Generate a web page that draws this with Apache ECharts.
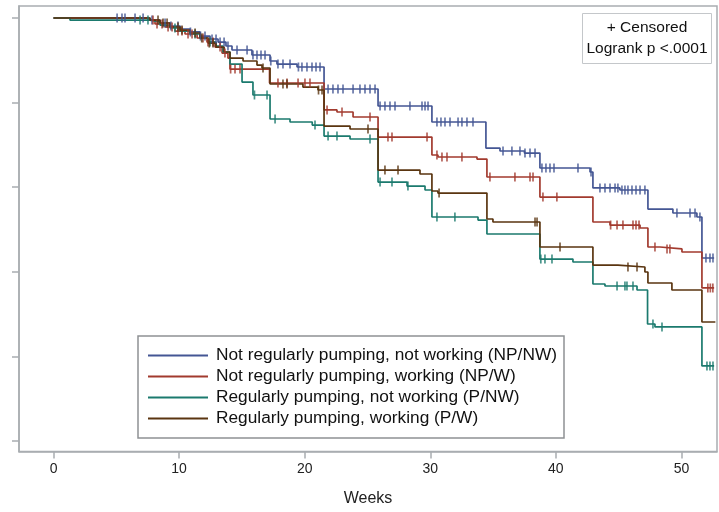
<!DOCTYPE html>
<html>
<head>
<meta charset="utf-8">
<script src="https://cdn.jsdelivr.net/npm/echarts@6/dist/echarts.min.js"></script>
<style>
  html, body { margin: 0; padding: 0; background: #ffffff; }
  #chart { width: 719px; height: 512px; }
</style>
</head>
<body>
<div id="chart"></div>
<script>
// Kaplan-Meier curves: time to stopping (weeks) by pumping / work status
const groupNames = [
  'Not regularly pumping, not working (NP/NW)',
  'Not regularly pumping, working (NP/W)',
  'Regularly pumping, not working (P/NW)',
  'Regularly pumping, working (P/W)'
];
const weekTicks = [0, 10, 20, 30, 40, 50];
const survivalTicks = [0.5, 0.6, 0.7, 0.8, 0.9, 1.0];

// NP/NW: event times (weeks) and survival estimate from each time onward
const npnwTimes = [0, 7.68, 8.48, 9.28, 10.08, 10.87, 11.66, 12.46, 13.1, 13.73, 14.21, 15.8, 17.24, 17.79, 19.39, 21.54, 25.84, 30.13, 34.43, 35.55, 37.5, 38.73, 42.72, 42.95, 45.1, 47.33, 49.32, 51.23, 51.63, 52.6];
const npnwSurv = [1, 0.9976, 0.9941, 0.9905, 0.987, 0.9835, 0.9787, 0.9752, 0.9716, 0.9669, 0.9622, 0.9563, 0.9492, 0.9456, 0.9421, 0.9161, 0.896, 0.8771, 0.8463, 0.8428, 0.8404, 0.8227, 0.818, 0.7991, 0.7967, 0.7742, 0.7695, 0.7648, 0.7163, 0.7163];
const npnwCensored = [5.06, 5.45, 5.69, 6.49, 7.13, 7.84, 8.88, 9.35, 9.91, 10.9, 11.7, 12.06, 12.62, 12.94, 13.26, 13.58, 13.89, 14.61, 15.41, 15.88, 16.2, 16.52, 16.84, 17.3, 17.87, 18.27, 18.83, 19.5, 19.78, 20.18, 20.58, 20.9, 21.22, 21.86, 22.25, 22.65, 23.05, 23.85, 24.4, 24.8, 25.2, 25.6, 26.0, 26.39, 26.79, 27.19, 28.38, 29.34, 29.58, 29.82, 30.53, 30.85, 31.17, 31.57, 32.21, 32.52, 32.92, 33.4, 35.79, 36.5, 37.14, 37.54, 37.94, 38.34, 38.89, 39.21, 39.53, 39.85, 41.76, 42.8, 43.51, 43.91, 44.31, 44.71, 44.94, 45.26, 45.5, 45.74, 46.06, 46.38, 46.7, 47.09, 49.64, 50.68, 51.08, 51.47, 51.95, 52.27, 52.51];

// NP/W
const npwTimes = [0, 7.52, 8.08, 8.88, 9.67, 10.47, 11.43, 12.22, 12.86, 13.42, 13.89, 14.05, 17.2, 21.54, 22.57, 23.85, 25.84, 30.13, 30.61, 33.72, 34.51, 38.73, 42.95, 44.31, 46.7, 47.33, 48.29, 50.04, 51.63, 52.6];
const npwSurv = [1, 0.9976, 0.9929, 0.9894, 0.9846, 0.9811, 0.9764, 0.9716, 0.9657, 0.9586, 0.9527, 0.9397, 0.9232, 0.8913, 0.8889, 0.883, 0.8593, 0.8381, 0.8357, 0.8333, 0.8121, 0.7884, 0.7589, 0.7553, 0.7518, 0.7293, 0.727, 0.7234, 0.6809, 0.6809];
const npwCensored = [7.92, 8.24, 8.64, 9.12, 9.44, 9.91, 10.23, 10.71, 11.03, 11.9, 12.3, 12.7, 13.26, 13.65, 14.1, 14.45, 14.85, 17.87, 18.59, 19.47, 20.02, 20.42, 21.78, 22.97, 25.2, 26.63, 26.95, 29.74, 30.53, 30.93, 31.33, 32.52, 34.75, 36.74, 37.94, 38.18, 38.97, 40.08, 44.36, 44.87, 45.34, 46.14, 46.38, 46.62, 47.89, 48.85, 49.08, 52.1, 52.3, 52.5];

// P/NW
const pnwTimes = [0, 1.31, 7.68, 8.48, 9.28, 10.07, 10.87, 11.66, 12.3, 12.94, 13.5, 14.05, 15.01, 15.88, 17.24, 18.83, 20.6, 21.54, 23.61, 25.84, 28.15, 29.58, 30.13, 33.8, 34.51, 38.73, 41.36, 42.95, 43.91, 46.46, 47.3, 47.89, 51.63, 52.6];
const pnwSurv = [1, 0.9976, 0.9953, 0.9917, 0.9882, 0.9846, 0.9811, 0.9764, 0.9716, 0.9669, 0.9598, 0.9456, 0.9243, 0.909, 0.8806, 0.8771, 0.8735, 0.8605, 0.857, 0.8061, 0.8014, 0.7967, 0.7648, 0.7612, 0.7447, 0.7151, 0.7116, 0.6856, 0.6832, 0.6785, 0.6383, 0.6348, 0.5887, 0.5887];
const pnwCensored = [6.89, 7.52, 9.67, 11.27, 12.46, 16.0, 17.0, 17.64, 20.82, 21.86, 22.57, 25.2, 26.0, 26.95, 28.22, 30.53, 31.96, 38.8, 39.13, 39.69, 44.87, 45.5, 45.66, 46.14, 47.73, 48.45, 52.03, 52.27, 52.51];

// P/W
const pwTimes = [0, 7.68, 8.48, 9.28, 10.07, 10.87, 11.66, 12.3, 12.94, 13.58, 14.05, 15.09, 16.2, 16.6, 17.24, 19.86, 21.06, 21.54, 23.61, 25.84, 29.18, 30.13, 30.61, 34.51, 34.99, 38.73, 42.95, 44.94, 47.09, 47.33, 49.24, 51.63, 52.7];
const pwSurv = [1, 0.9976, 0.9941, 0.9894, 0.9858, 0.9823, 0.9764, 0.9704, 0.9657, 0.9598, 0.9527, 0.9492, 0.9444, 0.9409, 0.922, 0.9184, 0.9149, 0.8723, 0.8688, 0.8203, 0.8156, 0.7955, 0.7931, 0.7624, 0.7589, 0.7293, 0.708, 0.7057, 0.6998, 0.6868, 0.6785, 0.6407, 0.6407];
const pwCensored = [8.32, 8.72, 9.04, 9.91, 10.23, 11.27, 11.8, 12.4, 12.7, 16.68, 18.27, 18.59, 21.1, 21.38, 25.04, 26.39, 27.43, 30.7, 38.34, 38.5, 40.33, 45.74, 46.46];

const lineColors = ['#445694', '#A23A2E', '#1B7A6E', '#5A3510'];
const fontFamily = '"Liberation Sans", Arial, sans-serif';

const groups = [
  { times: npnwTimes, surv: npnwSurv, censored: npnwCensored },
  { times: npwTimes, surv: npwSurv, censored: npwCensored },
  { times: pnwTimes, surv: pnwSurv, censored: pnwCensored },
  { times: pwTimes, surv: pwSurv, censored: pwCensored }
];

// survival estimate in effect at time t (right-continuous step function)
function survivalAt(times, surv, t) {
  let s = surv[0];
  for (let i = 0; i < times.length; i++) {
    if (times[i] <= t) s = surv[i]; else break;
  }
  return s;
}

const series = [];
groups.forEach((g, k) => {
  series.push({
    name: groupNames[k],
    type: 'line',
    step: 'end',
    showSymbol: false,
    symbol: 'none',
    data: g.times.map((t, i) => [t, g.surv[i]]),
    lineStyle: { color: lineColors[k], width: 1.7 },
    itemStyle: { color: lineColors[k] },
    z: 2 + k,
    silent: true
  });
});
groups.forEach((g, k) => {
  series.push({
    name: groupNames[k] + ' censored',
    type: 'scatter',
    symbol: 'rect',
    symbolSize: [1.7, 9],
    data: g.censored.map(t => [t, survivalAt(g.times, g.surv, t)]),
    itemStyle: { color: lineColors[k] },
    z: 6 + k,
    silent: true
  });
});

const chart = echarts.init(document.getElementById('chart'), null, { renderer: 'canvas' });
chart.setOption({
  animation: false,
  backgroundColor: '#ffffff',
  grid: {
    left: 19, right: 2, top: 6, bottom: 60.5,
    show: true, borderColor: '#a9adb1', borderWidth: 1.5, backgroundColor: 'transparent'
  },
  xAxis: {
    type: 'value',
    min: -2.75, max: 52.83,
    splitLine: { show: false },
    axisLine: { show: true, onZero: false, lineStyle: { color: '#a9adb1', width: 1.5 } },
    axisTick: { show: true, customValues: weekTicks, length: 7, lineStyle: { color: '#a9adb1', width: 1.5 } },
    axisLabel: {
      customValues: weekTicks, margin: 11,
      color: '#222', fontSize: 14, fontFamily: fontFamily
    },
    name: 'Weeks', nameLocation: 'middle', nameGap: 39,
    nameTextStyle: { color: '#222', fontSize: 16, fontFamily: fontFamily }
  },
  yAxis: {
    type: 'value',
    min: 0.4876, max: 1.0142,
    splitLine: { show: false },
    axisLine: { show: true, onZero: false, lineStyle: { color: '#a9adb1', width: 1.5 } },
    axisTick: { show: true, customValues: survivalTicks, length: 7, lineStyle: { color: '#a9adb1', width: 1.5 } },
    axisLabel: { show: false }
  },
  legend: {
    data: groupNames,
    orient: 'vertical',
    left: 138, top: 336,
    icon: 'rect',
    itemWidth: 60, itemHeight: 2,
    itemGap: 0,
    padding: [9, 6, 9, 10],
    borderColor: '#8e9194', borderWidth: 1.5, borderRadius: 0,
    backgroundColor: '#ffffff',
    selectedMode: false,
    textStyle: {
      color: '#111', fontSize: 17.3, fontFamily: fontFamily,
      lineHeight: 21, width: 342, padding: [0, 0, 0, 3]
    }
  },
  graphic: [{
    type: 'group', left: 582, top: 13,
    children: [
      { type: 'rect', shape: { x: 0, y: 0, width: 129, height: 50 },
        style: { fill: '#ffffff', stroke: '#c4c7ca', lineWidth: 1 } },
      { type: 'text', x: 64.5, y: 14,
        style: { text: '+ Censored', fill: '#111', font: '15.5px "Liberation Sans", Arial, sans-serif', align: 'center', verticalAlign: 'middle' } },
      { type: 'text', x: 64.5, y: 35,
        style: { text: 'Logrank p <.0001', fill: '#111', font: '15.5px "Liberation Sans", Arial, sans-serif', align: 'center', verticalAlign: 'middle' } }
    ]
  }],
  series: series
});
</script>
</body>
</html>
